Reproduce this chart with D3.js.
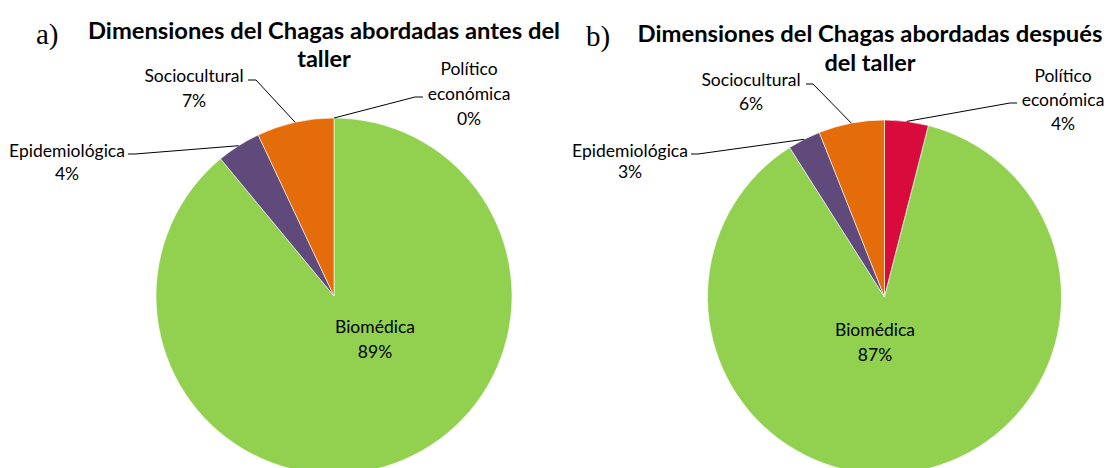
<!DOCTYPE html>
<html>
<head>
<meta charset="utf-8">
<script src="https://cdn.jsdelivr.net/npm/d3@7"></script>
<style>
  body { margin: 0; background: #fff; }
  svg { display: block; }
  .lbl { font-family: Lato, "Noto Sans", sans-serif; font-size: 17.5px; fill: #000; }
  .ttl { font-family: Lato, "Noto Sans", sans-serif; font-size: 23.5px; font-weight: bold; fill: #000; }
  .tag { font-family: "Liberation Serif", "DejaVu Serif", serif; font-size: 29px; fill: #000; }
</style>
</head>
<body>
<svg id="chart" width="1110" height="468"></svg>
<script>
// categories in clockwise order starting at 12 o'clock
var categories = ["Político económica", "Biomédica", "Epidemiológica", "Sociocultural"];
var antes = [0, 89, 4, 7];
var despues = [4, 87, 3, 6];
var colors = ["#D80B3C", "#92D050", "#604A7B", "#E46C0A"];
var labelLines = [["Político", "económica"], ["Biomédica"], ["Epidemiológica"], ["Sociocultural"]];

// layout of each panel (label centre x, first baseline, line step, leader start/elbow)
var panels = [
  {
    tag: "a)", tagX: 36, tagY: 44,
    title: ["Dimensiones del Chagas abordadas antes del", "taller"], titleX: 324, titleY: [39, 67],
    titleWidth: 472,
    cx: 334, cy: 296, r: 178, values: antes,
    labels: [
      {x: 469, y: 75, step: 25, lead: [[423, 97], [415, 97]]},
      {x: 375, y: 333, step: 25, lead: null},
      {x: 67, y: 157, step: 23, lead: [[128, 154], [135, 154]]},
      {x: 194, y: 82, step: 25, lead: [[248, 80], [256, 80]]}
    ]
  },
  {
    tag: "b)", tagX: 586, tagY: 46,
    title: ["Dimensiones del Chagas abordadas después", "del taller"], titleX: 870, titleY: [42, 71],
    titleWidth: 465,
    cx: 884.5, cy: 297, r: 177, values: despues,
    labels: [
      {x: 1063, y: 82, step: 24, lead: [[1017, 103], [1010, 103]]},
      {x: 875, y: 336, step: 25, lead: null},
      {x: 630, y: 157, step: 21, lead: [[691, 154], [698, 154]]},
      {x: 751, y: 86, step: 24, lead: [[806, 84], [813, 84]]}
    ]
  }
];

var svg = d3.select("#chart");
var pie = d3.pie().sort(null).value(function(d){ return d; });

panels.forEach(function(p){
  var g = svg.append("g");
  var arc = d3.arc().innerRadius(0).outerRadius(p.r);
  var rim = d3.arc().innerRadius(p.r).outerRadius(p.r);
  var arcs = pie(p.values);

  // slices
  g.append("g")
    .attr("transform", "translate(" + p.cx + "," + p.cy + ")")
    .selectAll("path")
    .data(arcs)
    .enter().append("path")
    .attr("d", arc)
    .attr("fill", function(d, i){ return colors[i]; })
    .attr("stroke", "#fff")
    .attr("stroke-width", function(d){ return d.value > 0 ? 0.6 : 0; });

  // leader lines: label -> elbow -> middle of the slice rim
  arcs.forEach(function(d, i){
    var lab = p.labels[i];
    if (!lab.lead) return;
    var c = rim.centroid(d);
    var pts = [lab.lead[0], lab.lead[1], [p.cx + c[0], p.cy + c[1]]];
    g.append("path")
      .attr("d", d3.line()(pts))
      .attr("fill", "none")
      .attr("stroke", "#000")
      .attr("stroke-width", 1);
  });

  // data labels
  arcs.forEach(function(d, i){
    var lab = p.labels[i];
    var lines = labelLines[i].concat([d3.format(".0f")(d.value) + "%"]);
    var t = g.append("text").attr("class", "lbl").attr("text-anchor", "middle");
    lines.forEach(function(s, k){
      t.append("tspan").attr("x", lab.x).attr("y", lab.y + k * lab.step).text(s);
    });
  });

  // title and panel tag
  p.title.forEach(function(s, k){
    var t = g.append("text").attr("class", "ttl").attr("text-anchor", "middle")
      .attr("x", p.titleX).attr("y", p.titleY[k]).text(s);
    if (k == 0) t.attr("textLength", p.titleWidth).attr("lengthAdjust", "spacingAndGlyphs");
  });
  g.append("text").attr("class", "tag").attr("x", p.tagX).attr("y", p.tagY).text(p.tag);
});
</script>
</body>
</html>
